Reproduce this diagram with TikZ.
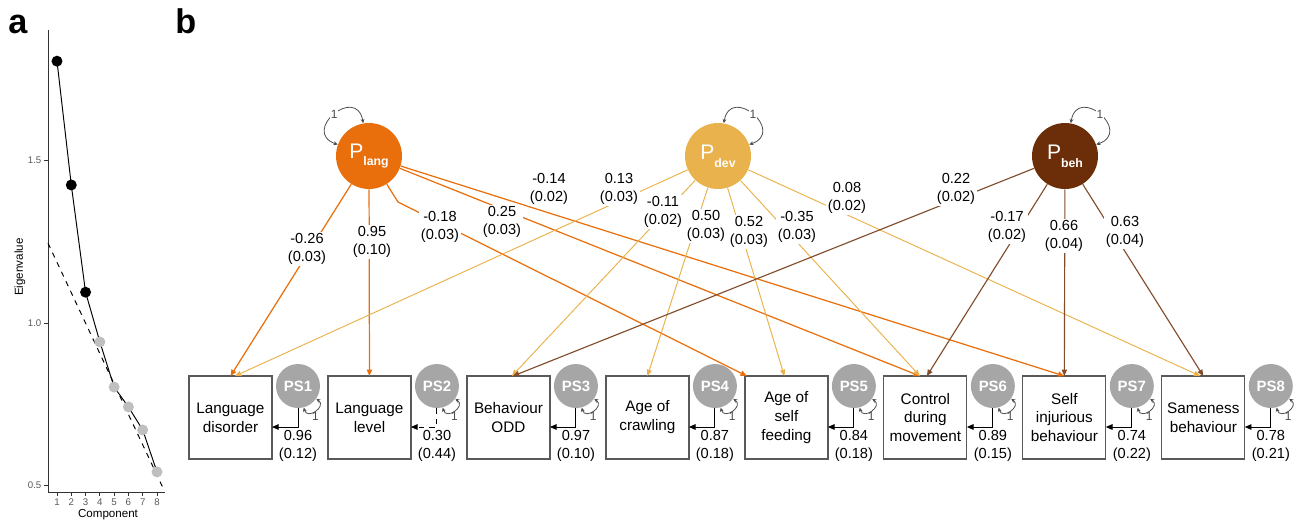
\documentclass[tikz,border=0pt]{standalone}
\usepackage{fontspec}
\setmainfont{Liberation Sans}
\usetikzlibrary{positioning,arrows.meta}
\definecolor{clang}{RGB}{233,110,12}
\definecolor{cdev}{RGB}{234,178,76}
\definecolor{cbeh}{RGB}{107,46,8}
\definecolor{cps}{RGB}{166,166,166}
\tikzset{
	latent/.style = { circle, minimum size=1.32cm, inner sep=0pt, text=white, font=\fontsize{12}{13}\selectfont },
	obs/.style = { draw=black!65, line width=0.7pt, minimum size=1.66cm, inner sep=0pt, outer sep=0pt, align=center, font=\fontsize{8.7}{10.8}\selectfont },
	err/.style = { circle, fill=cps, minimum size=0.88cm, inner sep=0pt, text=white, font=\bfseries\fontsize{8.5}{10}\selectfont },
	lbl/.style = { fill=white, align=center, inner sep=1pt, font=\fontsize{8.3}{10.2}\selectfont },
	rlbl/.style = { align=center, inner sep=1.5pt, font=\fontsize{8.3}{10.2}\selectfont },
	load/.style = { -{Triangle[length=3.6pt,width=3pt]} },
	lang/.style = { load, draw=clang, line width=0.7pt },
	dev/.style = { load, draw=cdev, line width=0.55pt },
	beh/.style = { load, draw=cbeh!85!white, line width=0.65pt },
	res/.style = { black, line width=0.55pt, -{Triangle[length=3.8pt,width=3.2pt]} },
	var/.style = { black!70, line width=0.45pt, {Stealth[length=2.4pt,width=2.2pt]}-{Stealth[length=2.4pt,width=2.2pt]} },
	one/.style = { inner sep=0.5pt, font=\fontsize{6.8}{7}\selectfont },
	axis/.style = { black!80, line width=0.55pt },
	tick/.style = { text=black!65, inner sep=1pt, font=\fontsize{5.5}{6}\selectfont },
	panel/.style = { anchor=base west, inner sep=0pt, font=\bfseries\fontsize{19.5}{20}\selectfont },
}

\begin{document}
\begin{tikzpicture}[x=0.02cm, y=-0.02cm]
\useasboundingbox (0,0) rectangle (1298,522);

% a: scree plot
\node[panel] (pa) at (8,33) {a};
\begin{scope}[shift={(42.71,648)}, x=0.2858cm, y=6.5cm]
	\draw[axis] (0.37,1.902) -- (0.37,0.48) -- (8.56,0.48);
	\foreach \v [count=\i] in {0.5,1.0,1.5}
		\draw[axis] (0.37,\v) -- ++(-2.5pt,0) node[tick, left] (yt\i) {\v};
	\foreach \c in {1,...,8}
		\draw[axis] (\c,0.48) -- ++(0,-2.5pt) node[tick, below] (xt\c) {\c};
	\draw[dashed, line width=0.55pt] (0.37,1.246) -- (8.49,0.486);
	\draw[line width=0.55pt] (1,1.806) -- (2,1.425) -- (3,1.095) -- (4,0.942) -- (5,0.803) -- (6,0.742) -- (7,0.671) -- (8,0.542);
	\foreach \c/\v in {1/1.806,2/1.425,3/1.095}
		\fill (\c,\v) circle[radius=0.11cm];
	\foreach \c/\v in {4/0.942,5/0.803,6/0.742,7/0.671,8/0.542}
		\fill[black!25] (\c,\v) circle[radius=0.11cm];
	\node[rotate=90, font=\fontsize{6.6}{7}\selectfont] (ylab) at (-1.59,1.172) {Eigenvalue};
	\node[font=\fontsize{6.6}{7}\selectfont] (xlab) at (4.57,0.409) {Component};
\end{scope}

% b: path model
\node[panel] (pb) at (175,33) {b};

\node[latent, fill=clang] (Plang) at (369,156) {P\raisebox{-4.5pt}{\bfseries\fontsize{7}{8}\selectfont lang}};
\node[latent, fill=cdev] (Pdev) at (718,156) {P\raisebox{-4.5pt}{\bfseries\fontsize{7}{8}\selectfont dev}};
\node[latent, fill=cbeh] (Pbeh) at (1065,156) {P\raisebox{-4.5pt}{\bfseries\fontsize{7}{8}\selectfont beh}};

\node[obs] (ldis) at (230.5,417.5) {Language\\disorder};
\node[obs, right=1.12cm of ldis] (llev) {Language\\level};
\node[obs, right=1.12cm of llev] (odd) {Behaviour\\ODD};
\node[obs, right=1.12cm of odd] (crawl) {Age of\\crawling};
\node[obs, right=1.12cm of crawl] (feed) {Age of\\self\\feeding};
\node[obs, right=1.12cm of feed] (ctrl) {Control\\during\\movement};
\node[obs, right=1.12cm of ctrl] (sib) {Self\\injurious\\behaviour};
\node[obs, right=1.12cm of sib] (same) {Sameness\\behaviour};

\node[err] (ps1) at ([shift={(26,10)}]ldis.north east) {PS1};
\node[err] (ps2) at ([shift={(26,10)}]llev.north east) {PS2};
\node[err] (ps3) at ([shift={(26,10)}]odd.north east) {PS3};
\node[err] (ps4) at ([shift={(26,10)}]crawl.north east) {PS4};
\node[err] (ps5) at ([shift={(26,10)}]feed.north east) {PS5};
\node[err] (ps6) at ([shift={(26,10)}]ctrl.north east) {PS6};
\node[err] (ps7) at ([shift={(26,10)}]sib.north east) {PS7};
\node[err] (ps8) at ([shift={(26,10)}]same.north east) {PS8};

% loadings
\coordinate (k1) at (398,202);
\draw[lang] (Plang) -- (ldis.north);
\draw[lang] (Plang) -- (llev.north);
\draw[lang] (Plang) -- (k1) -- ([xshift=0.04cm]feed.north west);
\draw[lang] (Plang) -- ([xshift=-0.11cm]ctrl.north);
\draw[lang] (Plang) -- (sib.north);
\draw[dev] (Pdev) -- ([xshift=0.09cm]ldis.north);
\draw[dev] (Pdev) -- ([xshift=0.07cm]odd.north);
\draw[dev] (Pdev) -- (crawl.north);
\draw[dev] (Pdev) -- ([xshift=-0.04cm]feed.north);
\draw[dev] (Pdev) -- ([xshift=-0.11cm]ctrl.north);
\draw[dev] (Pdev) -- ([xshift=-0.06cm]same.north);
\draw[beh] (Pbeh) -- ([xshift=0.09cm]odd.north);
\draw[beh] (Pbeh) -- ([xshift=0.03cm]ctrl.north);
\draw[beh] (Pbeh) -- (sib.north);
\draw[beh] (Pbeh) -- (same.north);

\node[lbl] (l1) at (307,249) {-0.26\\(0.03)};
\node[lbl] (l2) at (372,242) {0.95\\(0.10)};
\node[lbl] (l3) at (440,227) {-0.18\\(0.03)};
\node[lbl] (l4) at (502,222) {0.25\\(0.03)};
\node[lbl] (l5) at (549,189) {-0.14\\(0.02)};
\node[lbl] (l6) at (619,189) {0.13\\(0.03)};
\node[lbl] (l7) at (663,212) {-0.11\\(0.02)};
\node[lbl] (l8) at (706,226) {0.50\\(0.03)};
\node[lbl] (l9) at (749,232) {0.52\\(0.03)};
\node[lbl] (l10) at (797,227) {-0.35\\(0.03)};
\node[lbl] (l11) at (847,198) {0.08\\(0.02)};
\node[lbl] (l12) at (956,189) {0.22\\(0.02)};
\node[lbl] (l13) at (1007,227) {-0.17\\(0.02)};
\node[lbl] (l14) at (1064,236) {0.66\\(0.04)};
\node[lbl] (l15) at (1125,232) {0.63\\(0.04)};

% variances
\draw[var] (Plang.100) to[out=100, in=160, looseness=3] node[one, fill=white] {1} (Plang.160);
\draw[var] (Pdev.80) to[out=80, in=20, looseness=3] node[one, fill=white] {1} (Pdev.20);
\draw[var] (Pbeh.80) to[out=80, in=20, looseness=3] node[one, fill=white] {1} (Pbeh.20);

\draw[var] (ps1.-35) to[out=-35, in=-75, looseness=2.2] node[one, below] {1} (ps1.-75);
\draw[var] (ps2.-35) to[out=-35, in=-75, looseness=2.2] node[one, below] {1} (ps2.-75);
\draw[var] (ps3.-35) to[out=-35, in=-75, looseness=2.2] node[one, below] {1} (ps3.-75);
\draw[var] (ps4.-35) to[out=-35, in=-75, looseness=2.2] node[one, below] {1} (ps4.-75);
\draw[var] (ps5.-35) to[out=-35, in=-75, looseness=2.2] node[one, below] {1} (ps5.-75);
\draw[var] (ps6.-35) to[out=-35, in=-75, looseness=2.2] node[one, below] {1} (ps6.-75);
\draw[var] (ps7.-35) to[out=-35, in=-75, looseness=2.2] node[one, below] {1} (ps7.-75);
\draw[var] (ps8.-35) to[out=-35, in=-75, looseness=2.2] node[one, below] {1} (ps8.-75);

% residuals
\draw[res] (ps1) |- node[rlbl, below] {0.96\\(0.12)} ([yshift=-0.19cm]ldis.east);
\draw[res, dashed] (ps2) |- node[rlbl, below] {0.30\\(0.44)} ([yshift=-0.19cm]llev.east);
\draw[res] (ps3) |- node[rlbl, below] {0.97\\(0.10)} ([yshift=-0.19cm]odd.east);
\draw[res] (ps4) |- node[rlbl, below] {0.87\\(0.18)} ([yshift=-0.19cm]crawl.east);
\draw[res] (ps5) |- node[rlbl, below] {0.84\\(0.18)} ([yshift=-0.19cm]feed.east);
\draw[res] (ps6) |- node[rlbl, below] {0.89\\(0.15)} ([yshift=-0.19cm]ctrl.east);
\draw[res] (ps7) |- node[rlbl, below] {0.74\\(0.22)} ([yshift=-0.19cm]sib.east);
\draw[res] (ps8) |- node[rlbl, below] {0.78\\(0.21)} ([yshift=-0.19cm]same.east);
\end{tikzpicture}
\end{document}
